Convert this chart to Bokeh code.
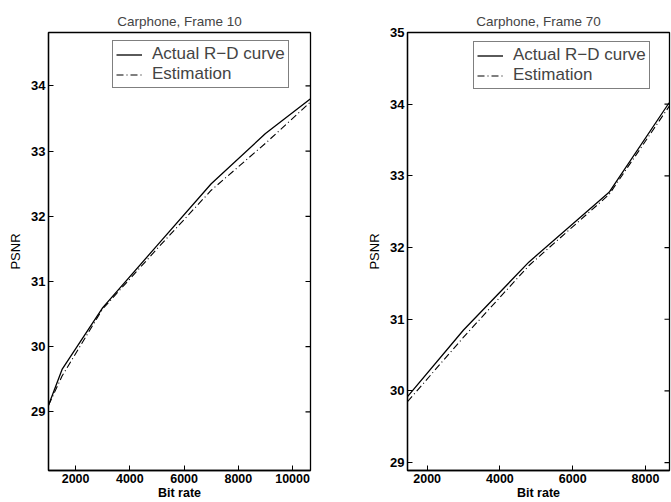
import math
from bokeh.plotting import figure
from bokeh.layouts import row
from bokeh.models import Range1d, FixedTicker, Legend, LegendItem
from bokeh.embed import file_html
from bokeh.resources import INLINE

# ---- data ----
f10_rate = [1000, 1500, 3000, 5000, 7000, 9000, 10650]
f10_actual = [29.1, 29.65, 30.6, 31.55, 32.5, 33.27, 33.8]
f10_est = [29.1, 29.55, 30.58, 31.5, 32.4, 33.12, 33.75]

f70_rate = [1460, 3000, 4800, 7000, 8650]
f70_actual = [29.92, 30.85, 31.8, 32.77, 34.02]
f70_est = [29.85, 30.75, 31.75, 32.74, 33.97]

f10_xticks = [2000, 4000, 6000, 8000, 10000]
f10_yticks = [29, 30, 31, 32, 33, 34]
f70_xticks = [2000, 4000, 6000, 8000]
f70_yticks = [29, 30, 31, 32, 33, 34, 35]

FONT = "Liberation Sans"


def make_panel(title, rate, actual, est, xr, yr, xticks, yticks, width, borders, leg_loc):
    bl, br, bt, bb = borders
    p = figure(width=width, height=502, output_backend="svg", toolbar_location=None,
               x_range=Range1d(*xr), y_range=Range1d(*yr),
               min_border_left=bl, min_border_right=br, min_border_top=bt, min_border_bottom=bb,
               x_axis_label="Bit rate", y_axis_label="PSNR")
    p.title.text = title
    p.title.align = "center"
    p.title.text_font = FONT
    p.title.text_font_size = "13.5px"
    p.title.text_font_style = "normal"
    p.title.offset = 0
    p.title.standoff = 7
    p.xgrid.visible = False
    p.ygrid.visible = False
    p.outline_line_color = "black"
    p.outline_line_width = 1.3
    p.outline_line_alpha = 1
    p.background_fill_color = "white"
    p.border_fill_color = "white"

    p.xaxis.ticker = FixedTicker(ticks=xticks)
    p.yaxis.ticker = FixedTicker(ticks=yticks)
    for ax in (p.xaxis[0], p.yaxis[0]):
        ax.major_tick_in = 5
        ax.major_tick_out = 0
        ax.minor_tick_line_color = None
        ax.axis_line_color = "black"
        ax.axis_line_width = 1.3
        ax.major_tick_line_color = "black"
        ax.major_label_text_font = FONT
        ax.major_label_text_font_size = "13px"
        ax.major_label_text_font_style = "bold"
        ax.major_label_text_color = "black"
        ax.axis_label_text_font = FONT
        ax.axis_label_text_font_size = "13px"
        ax.axis_label_text_color = "black"
    p.xaxis.major_label_text_font_size = "12.5px"
    p.xaxis.axis_label_text_font_size = "12.5px"
    p.xaxis.axis_label_text_font_style = "bold"
    p.yaxis.axis_label_text_font_style = "normal"
    p.xaxis.major_label_standoff = 3
    p.xaxis.axis_label_standoff = 0
    p.yaxis.major_label_standoff = 3
    p.yaxis.axis_label_standoff = 5

    # inward ticks on the top and right edges of the box
    p.ray(x=xticks, y=[yr[1]] * len(xticks), length=5, length_units="screen",
          angle=math.pi / 2, line_color="black", line_width=1.2)
    p.ray(x=[xr[1]] * len(yticks), y=yticks, length=5, length_units="screen",
          angle=math.pi, line_color="black", line_width=1.2)

    r1 = p.line(rate, actual, line_color="black", line_width=1.3)
    r2 = p.line(rate, est, line_color="black", line_width=1.1, line_dash="7 3 1 3")

    legend = Legend(items=[LegendItem(label="Actual R\u2212D curve", renderers=[r1]),
                           LegendItem(label="Estimation", renderers=[r2])],
                    location=leg_loc)
    legend.label_text_font = FONT
    legend.label_text_font_size = "17px"
    legend.label_height = 19
    legend.glyph_height = 19
    legend.glyph_width = 26
    legend.label_standoff = 10
    legend.spacing = 0
    legend.padding = 3
    legend.margin = 0
    legend.border_line_color = "black"
    legend.border_line_width = 1
    legend.background_fill_alpha = 1
    p.add_layout(legend)
    return p


p1 = make_panel("Carphone, Frame 10", f10_rate, f10_actual, f10_est,
                (1000, 10660), (28.1, 34.82), f10_xticks, f10_yticks, 340, (48, 30, 31, 30),
                (64, 382))
p2 = make_panel("Carphone, Frame 70", f70_rate, f70_actual, f70_est,
                (1460, 8660), (28.89, 35.0), f70_xticks, f70_yticks, 331, (67, 2, 32, 30),
                (66, 381))

p = row(p1, p2)
open("out.html", "w").write(file_html(p, INLINE))
